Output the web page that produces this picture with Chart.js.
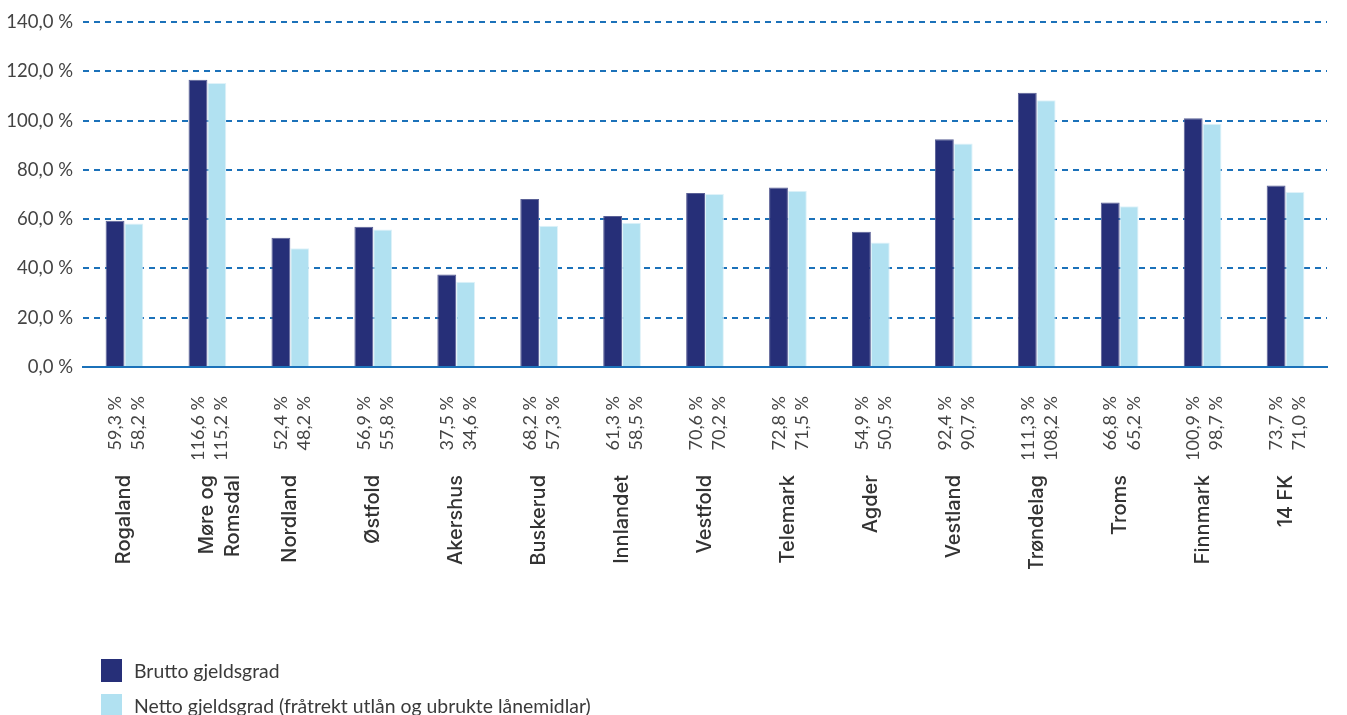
<!DOCTYPE html>
<html>
<head>
<meta charset="utf-8">
<script src="https://cdn.jsdelivr.net/npm/chart.js@4/dist/chart.umd.min.js"></script>
<style>
	html, body { margin: 0; padding: 0; background: #fff; }
	.wrap { position: relative; width: 1347px; height: 715px; }
	canvas { position: absolute; left: 0; top: 0; }
	.legend {
		position: absolute; left: 101px; top: 653px;
		font-family: Lato, sans-serif; font-size: 19.4px; color: #3a3a3a;
	}
	.legend div { display: flex; align-items: center; height: 35px; }
	.legend span.box { display: inline-block; width: 21px; height: 23px; margin-right: 12px; }
</style>
</head>
<body>
<div class="wrap">
	<canvas id="chart" width="1347" height="715"></canvas>
	<div class="legend" id="legend"></div>
</div>
<script>
const REGIONS = ['Rogaland', ['Møre og', 'Romsdal'], 'Nordland', 'Østfold', 'Akershus', 'Buskerud',
	'Innlandet', 'Vestfold', 'Telemark', 'Agder', 'Vestland', 'Trøndelag', 'Troms', 'Finnmark', '14 FK'];
const BRUTTO = [59.3, 116.6, 52.4, 56.9, 37.5, 68.2, 61.3, 70.6, 72.8, 54.9, 92.4, 111.3, 66.8, 100.9, 73.7];
const NETTO = [58.2, 115.2, 48.2, 55.8, 34.6, 57.3, 58.5, 70.2, 71.5, 50.5, 90.7, 108.2, 65.2, 98.7, 71.0];
const Y_TICKS = [0, 20, 40, 60, 80, 100, 120, 140];

const DARK = '#262f78';
const LIGHT = '#b1e1f1';
const GRID = '#1b71b9';

const pct = v => v.toFixed(1).replace('.', ',') + ' %';

const datasets = [
	{ label: 'Brutto gjeldsgrad', data: BRUTTO, backgroundColor: DARK, borderColor: '#5a6096', borderWidth: 1 },
	{ label: 'Netto gjeldsgrad (fråtrekt utlån og ubrukte lånemidlar)', data: NETTO, backgroundColor: LIGHT, borderColor: '#dff2f9', borderWidth: 1 }
];

// no extra right padding for the rotated labels, the layout padding is enough
const noSidePad = axis => { axis.paddingLeft = 0; axis.paddingRight = 0; };

new Chart(document.getElementById('chart').getContext('2d'), {
	type: 'bar',
	data: { labels: REGIONS, datasets },
	options: {
		responsive: false,
		animation: false,
		layout: { padding: { top: 22, left: 0, right: 20, bottom: 146 } },
		datasets: { bar: { barPercentage: 1, categoryPercentage: 0.455 } },
		plugins: { legend: { display: false }, tooltip: { enabled: false } },
		scales: {
			y: {
				min: 0, max: 140,
				afterBuildTicks: axis => { axis.ticks = Y_TICKS.map(v => ({ value: v })); },
				afterFit: axis => { axis.width = 83; },
				grid: {
					drawTicks: false,
					color: ctx => ctx.tick && ctx.tick.value === 0 ? 'transparent' : GRID,
					lineWidth: 2
				},
				border: { display: false, dash: [6, 5] },
				ticks: {
					padding: 10,
					color: '#444',
					font: { family: 'Lato', size: 18.5 },
					callback: v => pct(v)
				}
			},
			x: {
				position: 'bottom',
				weight: 0,
				afterFit: axis => { axis.height = 92; noSidePad(axis); },
				grid: { display: false, drawTicks: false },
				border: { display: true, color: GRID, width: 2 },
				ticks: {
					autoSkip: false,
					minRotation: 90, maxRotation: 90,
					padding: 29,
					labelOffset: -9,
					color: '#444',
					font: { family: 'Lato', size: 18, lineHeight: 1.28 },
					callback: (v, i) => [pct(BRUTTO[i]), pct(NETTO[i])]
				}
			},
			names: {
				type: 'category',
				position: 'bottom',
				weight: 1,
				offset: true,
				afterFit: axis => { axis.height = 110; noSidePad(axis); },
				grid: { display: false, drawTicks: false },
				border: { display: false },
				ticks: {
					autoSkip: false,
					minRotation: 90, maxRotation: 90,
					padding: 16,
					color: '#333',
					font: { family: 'Inter', size: 20, weight: '500', lineHeight: 1.3 }
				}
			}
		}
	}
});

document.getElementById('legend').innerHTML = datasets.map(d =>
	`<div><span class="box" style="background:${d.backgroundColor}"></span>${d.label}</div>`).join('');
</script>
</body>
</html>
